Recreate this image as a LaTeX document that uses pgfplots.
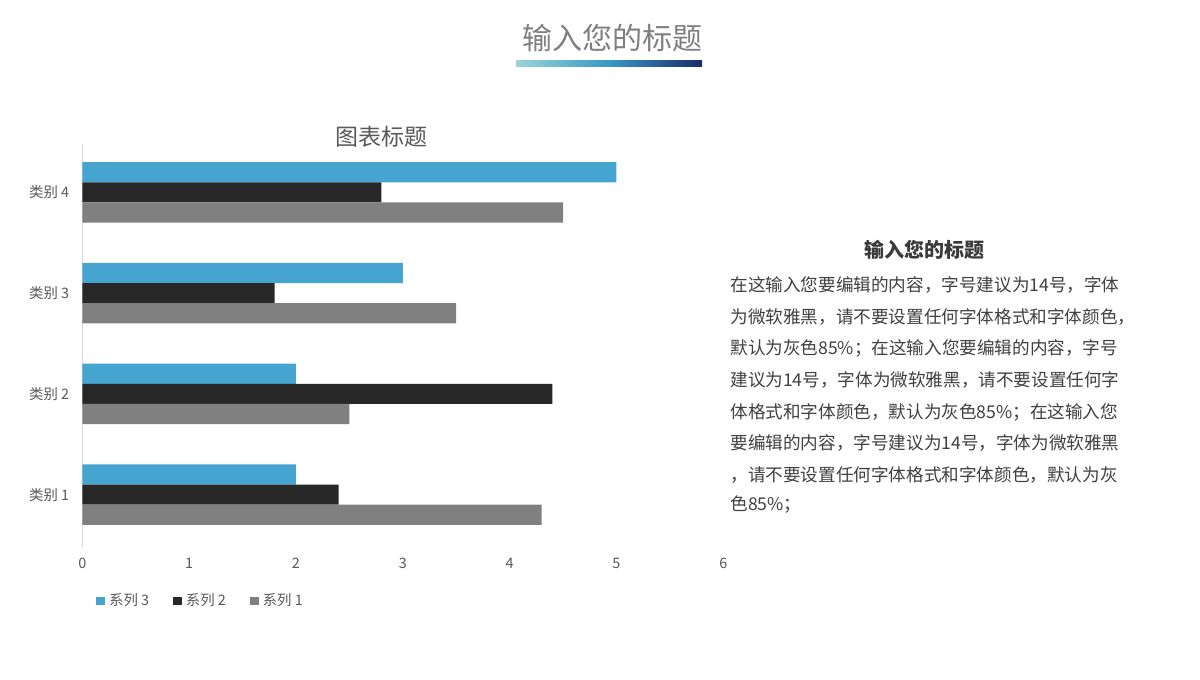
\documentclass[border=0pt]{standalone}
\usepackage{fontspec}
\setmainfont{Noto Sans CJK SC}
\usepackage{pgfplots}
\pgfplotsset{compat=1.18}
\definecolor{cS3}{HTML}{45A5D0}
\definecolor{cS2}{HTML}{282828}
\definecolor{cS1}{HTML}{808080}
\definecolor{txt}{HTML}{595959}
\definecolor{body}{HTML}{404040}
\definecolor{gA}{HTML}{9AD4D8}
\definecolor{gB}{HTML}{3A98C6}
\definecolor{gC}{HTML}{1B2A6B}
\begin{document}
\begin{tikzpicture}[x=0.5pt,y=0.5pt]
\fill[white] (0,0) rectangle (1200,680);
% top title
\node[text=cS1, font=\fontsize{15}{18}\selectfont] at (612,642) {输入您的标题};
\shade[left color=gA, right color=gC, middle color=gB] (516,613) rectangle (702,619);
% chart title
\node[text=txt, font=\fontsize{11.5}{14}\selectfont] at (381,543) {图表标题};
\begin{axis}[
  at={(77,132)}, anchor=south west,
  width=320.5pt, height=201.5pt, scale only axis,
  xmin=0, xmax=6, ymin=-0.52, ymax=3.48,
  axis lines*=left,
  x axis line style={draw=none},
  y axis line style={draw=black!15},
  xtick={0,1,2,3,4,5,6},
  ytick={0,1,2,3},
  yticklabels={类别 1,类别 2,类别 3,类别 4},
  major tick length=0pt,
  /pgf/number format/assume math mode=true,
  ticklabel style={text=txt, font=\fontsize{7.2}{8}\selectfont},
  xticklabel style={yshift=-2pt},
  yticklabel style={xshift=-3pt},
  bar width=0.2,
  legend columns=3,
  legend style={at={(0.012,-0.134)}, anchor=west, draw=none, fill=none,
    font=\fontsize{7.2}{8}\selectfont, text=txt,
    /tikz/every even column/.append style={column sep=10pt}},
  legend image code/.code={\fill[#1] (0pt,-2.2pt) rectangle (4.4pt,2.2pt);},
]
\addplot[xbar, bar shift=0.2, fill=cS3, draw=none] coordinates {(2,0) (2,1) (3,2) (5,3)};
\addlegendentry{系列 3}
\addplot[xbar, bar shift=0, fill=cS2, draw=none] coordinates {(2.4,0) (4.4,1) (1.8,2) (2.8,3)};
\addlegendentry{系列 2}
\addplot[xbar, bar shift=-0.2, fill=cS1, draw=none] coordinates {(4.3,0) (2.5,1) (3.5,2) (4.5,3)};
\addlegendentry{系列 1}
\end{axis}
% right text
\node[text=body!90!black, font=\fontsize{10}{12}\selectfont\bfseries] at (924,430) {输入您的标题};
\begin{scope}[every node/.style={anchor=west, inner sep=0pt, text=body, font=\fontsize{8.8}{10}\selectfont}]
\node at (730,395) {在这输入您要编辑的内容，字号建议为14号，字体};
\node at (730,363) {为微软雅黑，请不要设置任何字体格式和字体颜色，};
\node at (730,332) {默认为灰色85\%；在这输入您要编辑的内容，字号};
\node at (730,300) {建议为14号，字体为微软雅黑，请不要设置任何字};
\node at (730,268) {体格式和字体颜色，默认为灰色85\%；在这输入您};
\node at (730,237) {要编辑的内容，字号建议为14号，字体为微软雅黑};
\node at (730,205) {，请不要设置任何字体格式和字体颜色，默认为灰};
\node at (730,175) {色85\%；};
\end{scope}
\end{tikzpicture}
\end{document}
